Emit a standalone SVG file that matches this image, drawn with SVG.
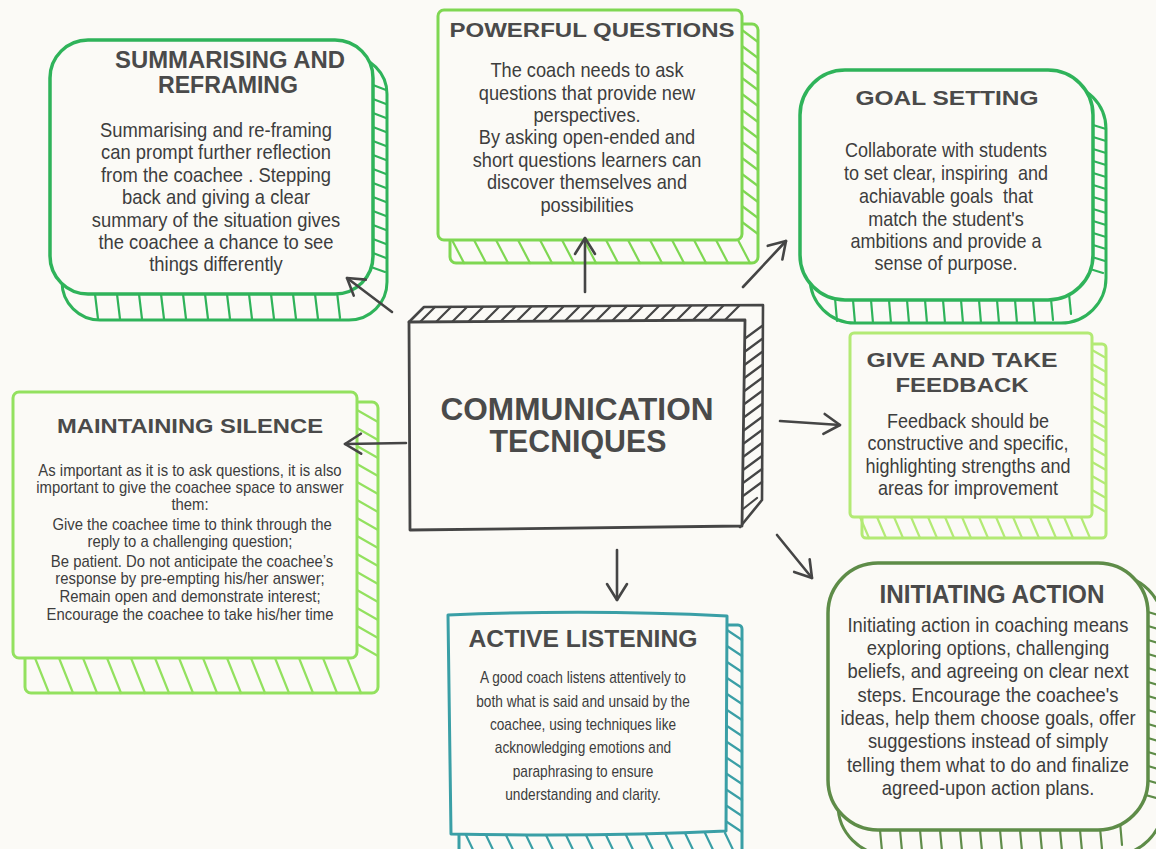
<svg xmlns="http://www.w3.org/2000/svg" width="1156" height="849" viewBox="0 0 1156 849">
  <defs>
    <style>
      .bg { fill: #fbfaf6; }
      .edge { fill: none; stroke-linejoin: round; stroke-linecap: round; }
      .face { fill: #fbfaf6; stroke-linejoin: round; stroke-linecap: round; }
      .hatch { fill: none; stroke-width: 2.2; stroke-linecap: round; }
      .title { font-family: "Liberation Sans", Arial, sans-serif; font-weight: bold; fill: #4a4a4a; text-anchor: middle; }
      .body { font-family: "Liberation Sans", Arial, sans-serif; fill: #3d3d3d; text-anchor: middle; }
      .green { stroke: #2fb35a; }
      .lime { stroke: #7fd752; }
      .pale { stroke: #93e15f; }
      .mint { stroke: #b3ea75; }
      .teal { stroke: #3a9fa6; }
      .olive { stroke: #5e8c48; }
      .ink { stroke: #454545; }
      .conn { fill: none; stroke: #454545; stroke-width: 2.6; stroke-linecap: round; }
    </style>
    <marker id="head" viewBox="0 0 20 24" refX="18" refY="12" markerWidth="20" markerHeight="24" markerUnits="userSpaceOnUse" orient="auto">
      <path d="M2,2 L18,12 L2,22" fill="none" stroke="#454545" stroke-width="2.6" stroke-linecap="round" stroke-linejoin="round"/>
    </marker>
  </defs>

  <rect class="bg" x="0" y="0" width="1156" height="849"/>

  <!-- Summarising and reframing -->
  <g id="summarising">
    <rect class="edge green" x="62" y="56" width="325" height="264" rx="38" stroke-width="3"/>
    <path class="hatch green" d="M373,85 L386,90 M373,99 L386,104 M373,113 L386,118 M373,127 L386,132 M373,141 L386,146 M373,155 L386,160 M373,169 L386,174 M373,183 L386,188 M373,197 L386,202 M373,211 L386,216 M373,225 L386,230 M373,239 L386,244 M373,253 L386,258 M371,267 L385,272 M95,294 L98,319 M117,294 L120,319 M139,294 L142,319 M161,294 L164,319 M183,294 L186,319 M205,294 L208,319 M227,294 L230,319 M249,294 L252,319 M271,294 L274,319 M293,294 L296,319 M315,294 L318,319 M337,292 L340,318"/>
    <rect class="face green" x="50" y="40" width="323" height="254" rx="38" stroke-width="3.5"/>
    <text class="title" font-size="23" x="230" y="68" textLength="230" lengthAdjust="spacingAndGlyphs">SUMMARISING AND</text>
    <text class="title" font-size="23" x="228" y="93" textLength="140" lengthAdjust="spacingAndGlyphs">REFRAMING</text>
    <g transform="translate(216,0) scale(0.92,1)">
      <text class="body" font-size="20" x="0" y="137">Summarising and re-framing</text>
      <text class="body" font-size="20" x="0" y="159">can prompt further reflection</text>
      <text class="body" font-size="20" x="0" y="182">from the coachee . Stepping</text>
      <text class="body" font-size="20" x="0" y="204">back and giving a clear</text>
      <text class="body" font-size="20" x="0" y="227">summary of the situation gives</text>
      <text class="body" font-size="20" x="0" y="249">the coachee a chance to see</text>
      <text class="body" font-size="20" x="0" y="271">things differently</text>
    </g>
  </g>

  <!-- Powerful questions -->
  <g id="powerful-questions">
    <rect class="edge lime" x="450" y="24" width="308" height="239" rx="6" stroke-width="3"/>
    <path class="hatch lime" d="M742,30 L758,42 M742,46 L758,58 M742,62 L758,74 M742,78 L758,90 M742,94 L758,106 M742,110 L758,122 M742,126 L758,138 M742,142 L758,154 M742,158 L758,170 M742,174 L758,186 M742,190 L758,202 M742,206 L758,218 M742,222 L758,234 M452,240 L464,263 M474,240 L486,263 M496,240 L508,263 M518,240 L530,263 M540,240 L552,263 M562,240 L574,263 M584,240 L596,263 M606,240 L618,263 M628,240 L640,263 M650,240 L662,263 M672,240 L684,263 M694,240 L706,263 M716,240 L728,263 M738,240 L750,263"/>
    <rect class="face lime" x="438" y="10" width="304" height="230" rx="6" stroke-width="3"/>
    <text class="title" font-size="21" x="592" y="37" textLength="285" lengthAdjust="spacingAndGlyphs">POWERFUL QUESTIONS</text>
    <g transform="translate(587,0) scale(0.91,1)">
      <text class="body" font-size="20" x="0" y="77">The coach needs to ask</text>
      <text class="body" font-size="20" x="0" y="100">questions that provide new</text>
      <text class="body" font-size="20" x="0" y="122">perspectives.</text>
      <text class="body" font-size="20" x="0" y="144">By asking open-ended and</text>
      <text class="body" font-size="20" x="0" y="167">short questions learners can</text>
      <text class="body" font-size="20" x="0" y="189">discover themselves and</text>
      <text class="body" font-size="20" x="0" y="212">possibilities</text>
    </g>
  </g>

  <!-- Goal setting -->
  <g id="goal-setting">
    <rect class="edge green" x="810" y="84" width="296" height="239" rx="45" stroke-width="3"/>
    <path class="hatch green" d="M1093,125 L1106,129 M1093,137 L1106,141 M1093,149 L1106,153 M1093,161 L1106,165 M1093,173 L1106,177 M1093,185 L1106,189 M1093,197 L1106,201 M1093,209 L1106,213 M1093,221 L1106,225 M1093,233 L1106,237 M1093,245 L1106,249 M1092,257 L1105,261 M1090,269 L1103,273 M835,298 L837,321 M853,300 L855,323 M871,300 L873,323 M889,300 L891,323 M907,300 L909,323 M925,300 L927,323 M943,300 L945,323 M961,300 L963,323 M979,300 L981,323 M997,300 L999,323 M1015,300 L1017,323 M1033,300 L1035,322 M1051,299 L1053,320 M1069,294 L1071,314"/>
    <rect class="face green" x="800" y="70" width="293" height="230" rx="45" stroke-width="3.5"/>
    <text class="title" font-size="21" x="947" y="105" textLength="183" lengthAdjust="spacingAndGlyphs">GOAL SETTING</text>
    <g transform="translate(946,0) scale(0.9,1)">
      <text class="body" font-size="20" x="0" y="157">Collaborate with students</text>
      <text class="body" font-size="20" x="0" y="180" xml:space="preserve">to set clear, inspiring  and</text>
      <text class="body" font-size="20" x="0" y="203" xml:space="preserve">achiavable goals  that</text>
      <text class="body" font-size="20" x="0" y="226">match the student's</text>
      <text class="body" font-size="20" x="0" y="248">ambitions and provide a</text>
      <text class="body" font-size="20" x="0" y="270">sense of purpose.</text>
    </g>
  </g>

  <!-- Central topic -->
  <g id="communication-techniques">
    <path class="edge ink" stroke-width="2.6" d="M409,322 L424,307 L763,305 L762,500 L740,527"/>
    <path class="hatch ink" d="M420,322 L435,307 M436,322 L451,307 M452,322 L467,307 M468,322 L483,307 M484,322 L499,307 M500,322 L515,307 M516,322 L531,307 M532,322 L547,307 M548,322 L563,307 M564,322 L579,307 M580,321 L595,306 M596,321 L611,306 M612,321 L627,306 M628,321 L643,306 M644,321 L659,306 M660,321 L675,306 M676,321 L691,306 M692,321 L707,306 M708,321 L723,306 M724,321 L739,306 M743,340 L762,326 M743,353 L762,339 M743,366 L762,352 M743,379 L762,365 M743,392 L762,378 M743,405 L762,391 M743,418 L762,404 M743,431 L762,417 M743,444 L762,430 M743,457 L762,443 M743,470 L762,456 M743,483 L762,469 M743,496 L762,482 M743,509 L757,498"/>
    <path class="face ink" stroke-width="2.8" d="M409,322 L745,320 L742,526 L410,530 Z"/>
    <text class="title" font-size="31" x="577" y="420" textLength="273" lengthAdjust="spacingAndGlyphs">COMMUNICATION</text>
    <text class="title" font-size="31" x="578" y="452" textLength="177" lengthAdjust="spacingAndGlyphs">TECNIQUES</text>
  </g>

  <!-- Maintaining silence -->
  <g id="maintaining-silence">
    <rect class="edge pale" x="25" y="402" width="353" height="291" rx="6" stroke-width="3"/>
    <path class="hatch pale" d="M357,410 L378,422 M357,428 L378,440 M357,446 L378,458 M357,464 L378,476 M357,482 L378,494 M357,500 L378,512 M357,518 L378,530 M357,536 L378,548 M357,554 L378,566 M357,572 L378,584 M357,590 L378,602 M357,608 L378,620 M357,626 L378,638 M357,644 L378,656 M35,658 L49,693 M59,658 L73,693 M83,658 L97,693 M107,658 L121,693 M131,658 L145,693 M155,658 L169,693 M179,658 L193,693 M203,658 L217,693 M227,658 L241,693 M251,658 L265,693 M275,658 L289,693 M299,658 L313,693 M323,658 L337,693 M347,658 L361,693"/>
    <rect class="face pale" x="13" y="392" width="344" height="266" rx="6" stroke-width="3"/>
    <text class="title" font-size="21" x="190" y="433" textLength="266" lengthAdjust="spacingAndGlyphs">MAINTAINING SILENCE</text>
    <g transform="translate(190,0) scale(0.93,1)">
      <text class="body" font-size="16" x="0" y="476">As important as it is to ask questions, it is also</text>
      <text class="body" font-size="16" x="0" y="493">important to give the coachee space to answer</text>
      <text class="body" font-size="16" x="0" y="510">them:</text>
      <text class="body" font-size="16" x="0" y="530" xml:space="preserve"> Give the coachee time to think through the</text>
      <text class="body" font-size="16" x="0" y="547">reply to a challenging question;</text>
      <text class="body" font-size="16" x="0" y="567" xml:space="preserve"> Be patient. Do not anticipate the coachee’s</text>
      <text class="body" font-size="16" x="0" y="584">response by pre-empting his/her answer;</text>
      <text class="body" font-size="16" x="0" y="602">Remain open and demonstrate interest;</text>
      <text class="body" font-size="16" x="0" y="620">Encourage the coachee to take his/her time</text>
    </g>
  </g>

  <!-- Give and take feedback -->
  <g id="feedback">
    <rect class="edge mint" x="862" y="344" width="244" height="194" rx="4" stroke-width="3"/>
    <path class="hatch mint" d="M1092,350 L1106,358 M1092,364 L1106,372 M1092,378 L1106,386 M1092,392 L1106,400 M1092,406 L1106,414 M1092,420 L1106,428 M1092,434 L1106,442 M1092,448 L1106,456 M1092,462 L1106,470 M1092,476 L1106,484 M1092,490 L1106,498 M1092,504 L1106,512 M860,517 L869,538 M877,517 L886,538 M894,517 L903,538 M911,517 L920,538 M928,517 L937,538 M945,517 L954,538 M962,517 L971,538 M979,517 L988,538 M996,517 L1005,538 M1013,517 L1022,538 M1030,517 L1039,538 M1047,517 L1056,538 M1064,517 L1073,538 M1081,517 L1090,538"/>
    <rect class="face mint" x="850" y="333" width="242" height="184" rx="4" stroke-width="3"/>
    <text class="title" font-size="21" x="962" y="367" textLength="191" lengthAdjust="spacingAndGlyphs">GIVE AND TAKE</text>
    <text class="title" font-size="21" x="962" y="392" textLength="133" lengthAdjust="spacingAndGlyphs">FEEDBACK</text>
    <g transform="translate(968,0) scale(0.9,1)">
      <text class="body" font-size="20" x="0" y="428">Feedback should be</text>
      <text class="body" font-size="20" x="0" y="450">constructive and specific,</text>
      <text class="body" font-size="20" x="0" y="473">highlighting strengths and</text>
      <text class="body" font-size="20" x="0" y="495">areas for improvement</text>
    </g>
  </g>

  <!-- Active listening -->
  <g id="active-listening">
    <rect class="edge teal" x="459" y="625" width="283" height="235" rx="4" stroke-width="3"/>
    <path class="hatch teal" d="M727,630 L742,640 M727,646 L742,656 M727,662 L742,672 M727,678 L742,688 M727,694 L742,704 M727,710 L742,720 M727,726 L742,736 M727,742 L742,752 M727,758 L742,768 M727,774 L742,784 M727,790 L742,800 M727,806 L742,816 M727,822 L742,832 M465,833 L476,856 M485,833 L496,856 M505,833 L516,856 M525,833 L536,856 M545,833 L556,856 M565,833 L576,856 M585,833 L596,856 M605,833 L616,856 M625,833 L636,856 M645,833 L656,856 M665,833 L676,856 M685,833 L696,856 M705,833 L716,856 M725,833 L736,856"/>
    <path class="face teal" stroke-width="3" d="M448,615 Q590,609 727,616 L726,831 Q600,837 451,834 Z"/>
    <text class="title" font-size="23" x="583" y="647" textLength="229" lengthAdjust="spacingAndGlyphs">ACTIVE LISTENING</text>
    <g transform="translate(583,0) scale(0.855,1)">
      <text class="body" font-size="16" x="0" y="683">A good coach listens attentively to</text>
      <text class="body" font-size="16" x="0" y="707">both what is said and unsaid by the</text>
      <text class="body" font-size="16" x="0" y="730">coachee, using techniques like</text>
      <text class="body" font-size="16" x="0" y="753">acknowledging emotions and</text>
      <text class="body" font-size="16" x="0" y="777">paraphrasing to ensure</text>
      <text class="body" font-size="16" x="0" y="800">understanding and clarity.</text>
    </g>
  </g>

  <!-- Initiating action -->
  <g id="initiating-action">
    <rect class="edge olive" x="838" y="575" width="325" height="280" rx="50" stroke-width="3"/>
    <path class="hatch olive" d="M1148,612 L1162,616 M1148,626 L1162,630 M1148,640 L1162,644 M1148,654 L1162,658 M1148,668 L1162,672 M1148,682 L1162,686 M1148,696 L1162,700 M1148,710 L1162,714 M1148,724 L1162,728 M1148,738 L1162,742 M1148,752 L1162,756 M1148,766 L1162,770 M1146,780 L1160,784 M1142,794 L1156,798 M880,830 L882,851 M900,830 L902,851 M920,830 L922,851 M940,830 L942,851 M960,830 L962,851 M980,830 L982,851 M1000,830 L1002,851 M1020,830 L1022,851 M1040,830 L1042,851 M1060,830 L1062,851 M1080,830 L1082,851 M1100,828 L1102,849 M1120,822 L1122,845"/>
    <rect class="face olive" x="828" y="563" width="320" height="267" rx="50" stroke-width="3.5"/>
    <text class="title" font-size="25" x="992" y="603" textLength="225" lengthAdjust="spacingAndGlyphs">INITIATING ACTION</text>
    <g transform="translate(988,0) scale(0.92,1)">
      <text class="body" font-size="20" x="0" y="632">Initiating action in coaching means</text>
      <text class="body" font-size="20" x="0" y="655">exploring options, challenging</text>
      <text class="body" font-size="20" x="0" y="678">beliefs, and agreeing on clear next</text>
      <text class="body" font-size="20" x="0" y="702">steps. Encourage the coachee's</text>
      <text class="body" font-size="20" x="0" y="725">ideas, help them choose goals, offer</text>
      <text class="body" font-size="20" x="0" y="748">suggestions instead of simply</text>
      <text class="body" font-size="20" x="0" y="772">telling them what to do and finalize</text>
      <text class="body" font-size="20" x="0" y="795">agreed-upon action plans.</text>
    </g>
  </g>

  <!-- Connectors from the central topic -->
  <g id="connectors">
    <path class="conn" marker-end="url(#head)" d="M392,312 L347,278"/>
    <path class="conn" marker-end="url(#head)" d="M585,292 L585,238"/>
    <path class="conn" marker-end="url(#head)" d="M743,287 L786,241"/>
    <path class="conn" marker-end="url(#head)" d="M406,443 L345,444"/>
    <path class="conn" marker-end="url(#head)" d="M780,421 L840,425"/>
    <path class="conn" marker-end="url(#head)" d="M617,550 L617,600"/>
    <path class="conn" marker-end="url(#head)" d="M777,535 L812,578"/>
  </g>
</svg>
